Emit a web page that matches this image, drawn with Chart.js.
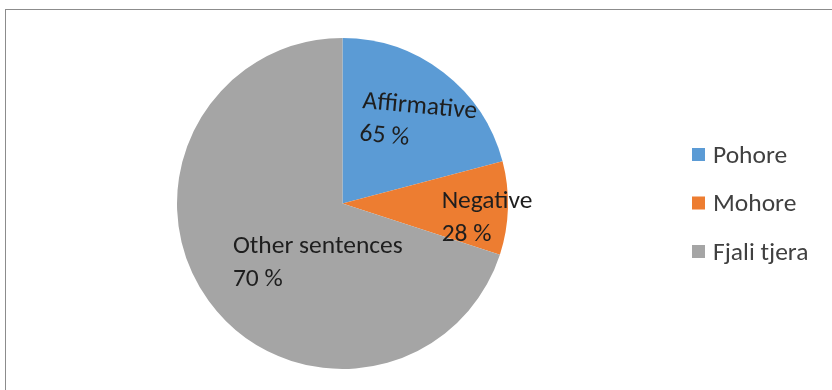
<!DOCTYPE html>
<html>
<head>
<meta charset="utf-8">
<script src="https://cdn.jsdelivr.net/npm/chart.js@4.4.0/dist/chart.umd.min.js"></script>
<style>
  html, body { margin: 0; padding: 0; background: #ffffff; width: 832px; height: 390px; overflow: hidden; }
  #frame { position: absolute; left: 5px; top: 9px; width: 900px; height: 500px;
           border-top: 1px solid #8c8c8c; border-left: 1px solid #8c8c8c; box-sizing: border-box; }
  #wrap { position: absolute; left: 0; top: 0; width: 832px; height: 390px; }
</style>
</head>
<body>
<div id="frame"></div>
<div id="wrap"><canvas id="c" width="832" height="390"></canvas></div>
<script>
// ---- data ----
const categories = ['Pohore', 'Mohore', 'Fjali tjera'];
const sliceValues = [20.9, 9.1, 70.0];
const labelNames = ['Affirmative', 'Negative', 'Other sentences'];
const labelPercents = ['65 %', '28 %', '70 %'];
const sliceColors = ['#5B9BD5', '#ED7D31', '#A5A5A5'];

const FONT = 'Carlito, Lato, sans-serif';

// data labels drawn at positions relative to the pie (in radius units)
const sliceLabelPlugin = {
  id: 'sliceLabels',
  afterDatasetsDraw(chart, args, opts) {
    const ctx = chart.ctx;
    const meta = chart.getDatasetMeta(0);
    meta.data.forEach((arc, i) => {
      const p = arc.getProps(['x', 'y', 'outerRadius'], true);
      const place = opts.places[i];
      const x = p.x + place.dx * p.outerRadius;
      const y = p.y + place.dy * p.outerRadius;
      ctx.save();
      ctx.translate(x, y);
      ctx.rotate((place.rot || 0) * Math.PI / 180);
      ctx.font = opts.fontSize + 'px ' + FONT;
      ctx.fillStyle = opts.color;
      ctx.textAlign = 'left';
      ctx.textBaseline = 'alphabetic';
      ctx.fillText(labelNames[i], 0, 0);
      ctx.fillText(labelPercents[i], 0, opts.lineHeight);
      ctx.restore();
    });
  }
};

const sideLegendPlugin = {
  id: 'sideLegend',
  afterDraw(chart, args, opts) {
    const ctx = chart.ctx;
    const ds = chart.data.datasets[0];
    ctx.save();
    ctx.font = opts.fontSize + 'px ' + FONT;
    ctx.textAlign = 'left';
    ctx.textBaseline = 'alphabetic';
    chart.data.labels.forEach((lab, i) => {
      const top = opts.top + i * opts.rowGap;
      ctx.fillStyle = ds.backgroundColor[i];
      ctx.fillRect(opts.left, top, opts.box, opts.box);
      ctx.fillStyle = opts.color;
      ctx.fillText(lab, opts.left + opts.box + opts.gap, top + opts.box + 1.5);
    });
    ctx.restore();
  }
};

new Chart(document.getElementById('c'), {
  type: 'pie',
  data: {
    labels: categories,
    datasets: [{
      data: sliceValues,
      backgroundColor: sliceColors,
      borderWidth: 0
    }]
  },
  options: {
    responsive: false,
    animation: false,
    events: [],
    layout: { padding: { left: 177, right: 324, top: 38, bottom: 21 } },
    plugins: {
      legend: { display: false },
      tooltip: { enabled: false },
      sliceLabels: {
        fontSize: 25.5,
        lineHeight: 32.4,
        color: '#1e1e1e',
        places: [
          { dx: 0.118, dy: -0.577, rot: 5.2 },
          { dx: 0.599, dy: 0.029, rot: 0 },
          { dx: -0.662, dy: 0.301, rot: 0 }
        ]
      },
      sideLegend: {
        left: 692, top: 148, rowGap: 48.5, box: 13, gap: 8,
        fontSize: 25.5, color: '#404040'
      }
    }
  },
  plugins: [sliceLabelPlugin, sideLegendPlugin]
});
</script>
</body>
</html>
